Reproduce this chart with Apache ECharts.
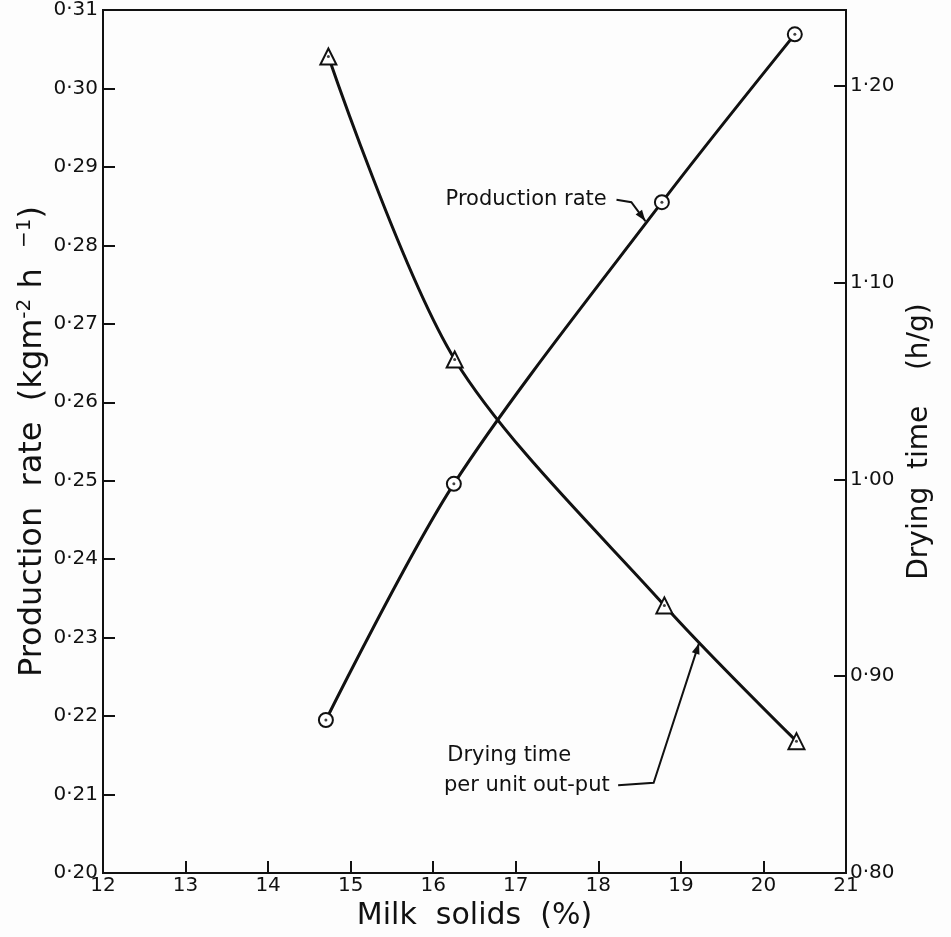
<!DOCTYPE html>
<html>
<head>
<meta charset="utf-8">
<script src="https://cdn.jsdelivr.net/npm/echarts@6/dist/echarts.min.js"></script>
<style>
  html, body { margin: 0; padding: 0; background: #fdfdfd; }
  #chart { width: 951px; height: 937px; }
</style>
</head>
<body>
<div id="chart"></div>
<script>
// milk solids (%) for each run
const prodSolids = [14.7, 16.25, 18.77, 20.38];
const prodRate = [0.2195, 0.2496, 0.2855, 0.3069];      // kg m-2 h-1
const drySolids = [14.73, 16.26, 18.8, 20.4];
const dryTime = [1.215, 1.061, 0.936, 0.867];           // h/g

const rightTicks = [0.8, 0.9, 1.0, 1.1, 1.2];

const font = 'DejaVu Sans';
const chart = echarts.init(document.getElementById('chart'));

function pairs(xs, ys) {
    return xs.map((x, i) => [x, ys[i]]);
}
function dotFmt(v) {
    return v.toFixed(2).replace('.', '·');
}

const option = {
    backgroundColor: '#fdfdfd',
    animation: false,
    grid: {
        left: 103, right: 105, top: 9, bottom: 64,
        show: true, borderColor: '#111', borderWidth: 2
    },
    xAxis: {
        type: 'value', min: 12, max: 21, interval: 1,
        name: 'Milk  solids  (%)', nameLocation: 'middle', nameGap: 20,
        nameTextStyle: { fontFamily: font, fontSize: 30, color: '#111' },
        axisLine: { lineStyle: { color: '#111', width: 2 } },
        axisTick: { inside: true, length: 12, lineStyle: { color: '#111', width: 2 } },
        axisLabel: { fontFamily: font, fontSize: 20, color: '#111', margin: 3 },
        splitLine: { show: false }
    },
    yAxis: [
        {
            type: 'value', min: 0.20, max: 0.31, interval: 0.01,
            name: 'Production  rate  (kgm{sup|-2} h  {sup|−1})',
            nameLocation: 'middle', nameGap: 52, nameRotate: 90,
            nameMoveOverlap: false,
            nameTextStyle: {
                fontFamily: font, fontSize: 32, color: '#111',
                rich: {
                    sup: { fontFamily: font, fontSize: 20, color: '#111', verticalAlign: 'top', padding: [0, 0, 16, 0] }
                }
            },
            axisLine: { show: true, lineStyle: { color: '#111', width: 2 } },
            axisTick: { inside: true, length: 12, lineStyle: { color: '#111', width: 2 } },
            axisLabel: { fontFamily: font, fontSize: 20, color: '#111', margin: 5, formatter: dotFmt },
            splitLine: { show: false }
        },
        {
            type: 'value', min: 0.8, max: 1.2386, position: 'right',
            name: 'Drying  time    (h/g)',
            nameLocation: 'middle', nameGap: 60, nameRotate: 90,
            nameMoveOverlap: false,
            nameTextStyle: { fontFamily: font, fontSize: 28, color: '#111' },
            axisLine: { show: true, lineStyle: { color: '#111', width: 2 } },
            axisTick: { inside: true, length: 12, customValues: rightTicks, lineStyle: { color: '#111', width: 2 } },
            axisLabel: { fontFamily: font, fontSize: 20, color: '#111', margin: 4, customValues: rightTicks, formatter: dotFmt },
            splitLine: { show: false }
        }
    ],
    series: [
        {
            name: 'Production rate', type: 'line', yAxisIndex: 0,
            smooth: 0.3,
            data: pairs(prodSolids, prodRate),
            lineStyle: { color: '#111', width: 3 },
            symbol: 'emptyCircle', symbolSize: 14,
            itemStyle: { color: '#111', borderColor: '#111', borderWidth: 2.5 },
            z: 3
        },
        {
            name: 'Drying time', type: 'line', yAxisIndex: 1,
            smooth: 0.3,
            data: pairs(drySolids, dryTime),
            lineStyle: { color: '#111', width: 3 },
            symbol: 'emptyTriangle', symbolSize: 16,
            itemStyle: { color: '#111', borderColor: '#111', borderWidth: 2.5 },
            z: 3
        },
        {
            type: 'scatter', yAxisIndex: 0, data: pairs(prodSolids, prodRate),
            symbol: 'circle', symbolSize: 3, itemStyle: { color: '#111' }, z: 4
        },
        {
            type: 'scatter', yAxisIndex: 1, data: pairs(drySolids, dryTime),
            symbol: 'circle', symbolSize: 3, itemStyle: { color: '#111' }, z: 4
        }
    ]
};
chart.setOption(option);

// annotations, anchored in data coordinates of the left axis
const prodLabelAt = [16.15, 0.2859];
const prodLeader = [[18.22, 0.2858], [18.4, 0.2855], [18.57, 0.2831]];
const dryLabelAt1 = [16.17, 0.2150];
const dryLabelAt2 = [16.13, 0.2112];
const dryLeader = [[18.24, 0.2112], [18.67, 0.2115], [19.22, 0.2293]];

function px(p) {
    return chart.convertToPixel({ xAxisIndex: 0, yAxisIndex: 0 }, p);
}
function leader(points) {
    const pts = points.map(px);
    const a = pts[pts.length - 2], b = pts[pts.length - 1];
    const ang = Math.atan2(b[1] - a[1], b[0] - a[0]);
    const len = 11, half = 4;
    const bx = b[0] - len * Math.cos(ang), by = b[1] - len * Math.sin(ang);
    const head = [
        b,
        [bx + half * Math.sin(ang), by - half * Math.cos(ang)],
        [bx - half * Math.sin(ang), by + half * Math.cos(ang)]
    ];
    return [
        { type: 'polyline', shape: { points: pts }, style: { stroke: '#111', lineWidth: 2, fill: null } },
        { type: 'polygon', shape: { points: head }, style: { fill: '#111' } }
    ];
}
function label(text, p) {
    const q = px(p);
    return {
        type: 'text', x: q[0], y: q[1],
        style: { text: text, fontFamily: font, fontSize: 21, fill: '#111', textVerticalAlign: 'middle' }
    };
}

chart.setOption({
    graphic: [
        label('Production rate', prodLabelAt),
        label('Drying time', dryLabelAt1),
        label('per unit out-put', dryLabelAt2)
    ].concat(leader(prodLeader), leader(dryLeader))
});
</script>
</body>
</html>
